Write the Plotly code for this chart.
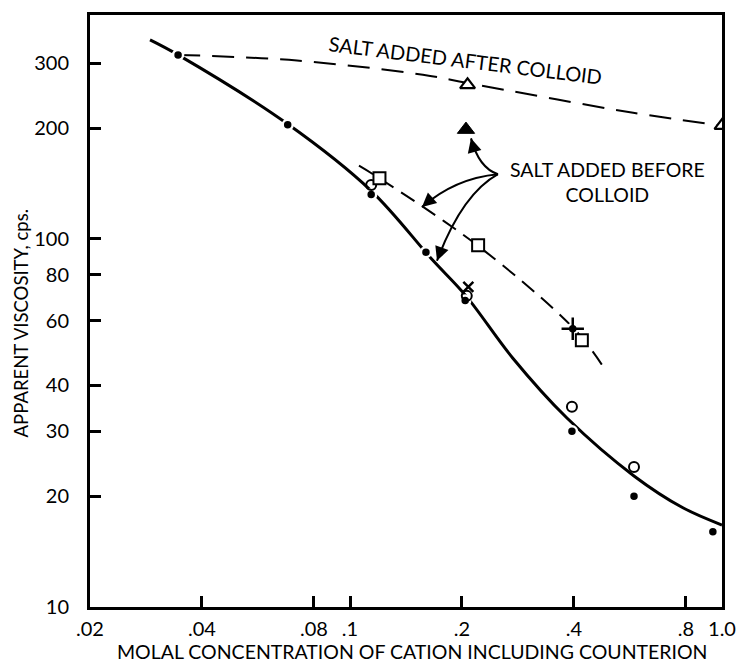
import numpy as np
import plotly.graph_objects as go

# ---------------- data ----------------
curve_x = [0.029, 0.0345, 0.068, 0.114, 0.166, 0.205, 0.274, 0.383, 0.58, 0.785, 1.0]
curve_y = [347, 316, 205, 135, 88, 70, 47.4, 32.6, 22.7, 18.6, 16.7]

after_x = [0.0345, 0.072, 0.157, 0.207, 0.577, 1.0]
after_y = [316, 305, 279, 265, 220, 203]

before_x = [0.1057, 0.12, 0.22, 0.4, 0.479]
before_y = [158, 146, 96, 57, 45]

dots_x = [0.0345, 0.068, 0.114, 0.16, 0.204, 0.397, 0.395, 0.58, 0.945]
dots_y = [316, 204, 132, 92, 68, 57, 30, 20, 16]

circ_x = [0.114, 0.206, 0.395, 0.58]
circ_y = [140, 70, 35, 24]

sq_x = [0.12, 0.221, 0.42]
sq_y = [146, 96, 53]

tri_open_x = [0.207, 1.0]
tri_open_y = [262, 203]

tri_fill_x = [0.205]
tri_fill_y = [198]

xmark_x = [0.208]
xmark_y = [74]

cross_x = [0.397]
cross_y = [57]

x_ticks = [0.02, 0.04, 0.08, 0.1, 0.2, 0.4, 0.8, 1.0]
x_ticktext = [".02", ".04", ".08", ".1", ".2", ".4", ".8", "1.0"]
y_ticks = [10, 20, 30, 40, 60, 80, 100, 200, 300]
y_ticktext = ["10", "20", "30", "40", "60", "80", "100", "200", "300"]

FONT = "Lato"
BLACK = "black"

# ---------------- layout geometry helpers ----------------
W, H = 752, 667
ML, MR, MT, MB = 90, 30, 12, 60
PW, PH = W - ML - MR, H - MT - MB


def P(px, py):
    return (px - ML) / PW, (H - MB - py) / PH


fig = go.Figure()

# lines
fig.add_trace(go.Scatter(x=curve_x, y=curve_y, mode="lines",
                         line=dict(color=BLACK, width=3, shape="spline", smoothing=1.0),
                         hoverinfo="skip", showlegend=False))
fig.add_trace(go.Scatter(x=after_x, y=after_y, mode="lines",
                         line=dict(color=BLACK, width=2, dash="22px,12px", shape="spline"),
                         hoverinfo="skip", showlegend=False))
fig.add_trace(go.Scatter(x=before_x, y=before_y, mode="lines",
                         line=dict(color=BLACK, width=2, dash="16px,9px", shape="spline"),
                         hoverinfo="skip", showlegend=False))

# markers
fig.add_trace(go.Scatter(x=dots_x, y=dots_y, mode="markers",
                         marker=dict(symbol="circle", size=10, color=BLACK,
                                     line=dict(color="white", width=2.5)),
                         showlegend=False))
fig.add_trace(go.Scatter(x=circ_x, y=circ_y, mode="markers",
                         marker=dict(symbol="circle-open", size=10, color=BLACK,
                                     line=dict(color=BLACK, width=2)),
                         showlegend=False))
fig.add_trace(go.Scatter(x=sq_x, y=sq_y, mode="markers",
                         marker=dict(symbol="square", size=12, color="white",
                                     line=dict(color=BLACK, width=2)),
                         showlegend=False))
fig.add_trace(go.Scatter(x=tri_open_x, y=tri_open_y, mode="markers",
                         marker=dict(symbol="triangle-up", size=13, color="white",
                                     line=dict(color=BLACK, width=2.2)),
                         showlegend=False))
fig.add_trace(go.Scatter(x=tri_fill_x, y=tri_fill_y, mode="markers",
                         marker=dict(symbol="triangle-up", size=15, color=BLACK,
                                     line=dict(color=BLACK, width=1)),
                         showlegend=False))
fig.add_trace(go.Scatter(x=xmark_x, y=xmark_y, mode="markers",
                         marker=dict(symbol="x-thin-open", size=10, color=BLACK,
                                     line=dict(color=BLACK, width=2.5)),
                         showlegend=False))
fig.add_trace(go.Scatter(x=cross_x, y=cross_y, mode="markers",
                         marker=dict(symbol="cross-thin-open", size=16, color=BLACK,
                                     line=dict(color=BLACK, width=2.5)),
                         showlegend=False))

shapes = []
# longer major ticks
shapes.append(dict(type="line", xref="x", yref="paper",
                   x0=np.log10(0.1), x1=np.log10(0.1), y0=0, y1=16 / PH,
                   line=dict(color=BLACK, width=2.5)))
shapes.append(dict(type="line", xref="paper", yref="y",
                   x0=0, x1=22 / PW, y0=np.log10(100), y1=np.log10(100),
                   line=dict(color=BLACK, width=2.5)))

# curved leader lines (pixel points converted to paper)
origin = (498, 172)
curves = [
    ((479, 166), (471, 136)),
    ((455, 176), (422, 205)),
    ((462, 192), (437, 259)),
]
for ctrl, tip in curves:
    x0, y0 = P(*origin)
    cx, cy = P(*ctrl)
    x1, y1 = P(*tip)
    shapes.append(dict(type="path", xref="paper", yref="paper",
                       path=f"M {x0} {y0} Q {cx} {cy} {x1} {y1}",
                       line=dict(color=BLACK, width=2)))

annotations = []
for ctrl, tip in curves:
    dx, dy = ctrl[0] - tip[0], ctrl[1] - tip[1]
    n = (dx * dx + dy * dy) ** 0.5
    tx, ty = P(*tip)
    annotations.append(dict(x=tx, y=ty, xref="paper", yref="paper",
                            ax=dx / n * 12, ay=dy / n * 12, axref="pixel", ayref="pixel",
                            text="", showarrow=True, arrowhead=2, arrowsize=1.4,
                            arrowwidth=2, arrowcolor=BLACK, standoff=0))


def label(px, py, text, size, angle=0):
    x, y = P(px, py)
    return dict(x=x, y=y, xref="paper", yref="paper", xanchor="center", yanchor="middle",
                text=text, showarrow=False, textangle=angle, align="center",
                font=dict(family=FONT, size=size, color=BLACK))


annotations.append(label(466, 57, "SALT ADDED AFTER COLLOID", 20, 7))
annotations.append(label(607, 180, "SALT ADDED BEFORE<br>COLLOID", 19.5))
annotations.append(label(412, 652, "MOLAL CONCENTRATION OF CATION INCLUDING COUNTERION", 19.5))
annotations.append(label(21, 322, "APPARENT VISCOSITY, cps.", 18.5, -90))

fig.update_layout(
    width=W, height=H,
    margin=dict(l=ML, r=MR, t=MT, b=MB),
    paper_bgcolor="white", plot_bgcolor="white",
    shapes=shapes, annotations=annotations,
    font=dict(family=FONT, color=BLACK),
)
fig.update_xaxes(type="log", range=[np.log10(0.02), 0], tickmode="array",
                 tickvals=x_ticks, ticktext=x_ticktext, ticks="inside", ticklen=11,
                 tickwidth=2.5, tickcolor=BLACK, showgrid=False, zeroline=False,
                 showline=True, linecolor=BLACK, linewidth=3, mirror=True,
                 tickfont=dict(family=FONT, size=20, color=BLACK), ticklabelstandoff=2)
fig.update_yaxes(type="log", range=[1, 2.608], tickmode="array",
                 tickvals=y_ticks, ticktext=y_ticktext, ticks="inside", ticklen=11,
                 tickwidth=2.5, tickcolor=BLACK, showgrid=False, zeroline=False,
                 showline=True, linecolor=BLACK, linewidth=3, mirror=True,
                 tickfont=dict(family=FONT, size=20, color=BLACK), ticklabelstandoff=14)

fig.write_html("out.html")
